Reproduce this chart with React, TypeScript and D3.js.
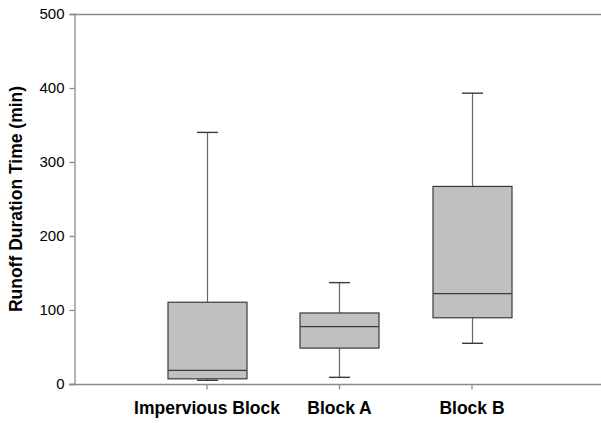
import React, {useEffect, useRef} from 'react';
import * as d3 from "d3";

const groups = ["Impervious Block", "Block A", "Block B"]
const whiskerLow = [5, 9, 55]
const quartile1 = [7, 48.5, 89.5]
const medians = [18.5, 77.5, 122]
const quartile3 = [110.5, 96, 267]
const whiskerHigh = [340, 137, 393]
const yTicks = [0, 100, 200, 300, 400, 500]

const App = () => {

  const chart = useRef<SVGSVGElement>(null)

  useEffect(() => {
    const width = 601
    const height = 423
    const top = 14
    const bottom = 384
    const left = 74

    const svg = d3.select(chart.current)
    svg.selectAll("*").remove()
    svg.attr("width", width).attr("height", height)

    const xScale = d3.scalePoint<string>()
      .domain(groups)
      .range([left, 604])
      .padding(1)

    const yScale = d3.scaleLinear()
      .domain([0, 500])
      .range([bottom, top])

    const axisColor = "#8a8a8a"

    // top frame line (runs off the right edge)
    svg.append("line")
      .attr("x1", left).attr("x2", width)
      .attr("y1", top + 0.5).attr("y2", top + 0.5)
      .attr("stroke", axisColor).attr("stroke-width", 1.3)

    // y axis
    const yAxis = svg.append("g")
      .attr("transform", `translate(${left + 0.5},0)`)
      .call(d3.axisLeft(yScale).tickValues(yTicks).tickSize(5).tickPadding(5))
    yAxis.select(".domain").attr("stroke", axisColor).attr("stroke-width", 1.3)
    yAxis.selectAll(".tick line").attr("stroke", axisColor).attr("stroke-width", 1.3)
    yAxis.selectAll("text")
      .attr("font-family", "Liberation Sans, Arial, sans-serif")
      .attr("font-size", 15)
      .attr("fill", "#000")

    // x axis
    const xAxis = svg.append("g")
      .attr("transform", `translate(0,${bottom + 0.5})`)
      .call(d3.axisBottom(xScale).tickSize(5).tickSizeOuter(0).tickPadding(12))
    xAxis.select(".domain").attr("d", `M${left - 5},0H${width}`)
      .attr("stroke", axisColor).attr("stroke-width", 1.3)
    xAxis.selectAll(".tick line").attr("stroke", axisColor).attr("stroke-width", 1.3)
    xAxis.selectAll("text")
      .attr("font-family", "Liberation Sans, Arial, sans-serif")
      .attr("font-size", 17.5)
      .attr("font-weight", "bold")
      .attr("fill", "#000")

    // boxes
    const boxW = 79
    const capW = 21
    groups.forEach((g, i) => {
      const cx = Math.round(xScale(g) as number) + 0.5
      const box = svg.append("g")

      box.append("line")
        .attr("x1", cx).attr("x2", cx)
        .attr("y1", yScale(whiskerHigh[i])).attr("y2", yScale(quartile3[i]))
        .attr("stroke", "#666").attr("stroke-width", 1.2)
      box.append("line")
        .attr("x1", cx).attr("x2", cx)
        .attr("y1", yScale(quartile1[i])).attr("y2", yScale(whiskerLow[i]))
        .attr("stroke", "#666").attr("stroke-width", 1.2)

      box.append("rect")
        .attr("x", cx - boxW / 2)
        .attr("y", yScale(quartile3[i]))
        .attr("width", boxW)
        .attr("height", yScale(quartile1[i]) - yScale(quartile3[i]))
        .attr("fill", "#c0c0c0")
        .attr("stroke", "#3a3a3a")
        .attr("stroke-width", 1.2)

      box.append("line")
        .attr("x1", cx - boxW / 2).attr("x2", cx + boxW / 2)
        .attr("y1", yScale(medians[i])).attr("y2", yScale(medians[i]))
        .attr("stroke", "#3a3a3a").attr("stroke-width", 1.2)

      ;[whiskerHigh[i], whiskerLow[i]].forEach(v => {
        box.append("line")
          .attr("x1", cx - capW / 2).attr("x2", cx + capW / 2)
          .attr("y1", yScale(v)).attr("y2", yScale(v))
          .attr("stroke", "#3a3a3a").attr("stroke-width", 1.4)
      })
    })

    // y title
    svg.append("text")
      .attr("transform", `translate(22,${(top + bottom) / 2}) rotate(-90)`)
      .attr("text-anchor", "middle")
      .attr("font-family", "Liberation Sans, Arial, sans-serif")
      .attr("font-size", 17.5)
      .attr("font-weight", "bold")
      .text("Runoff Duration Time (min)")

  }, []);

  return (
    <svg ref={chart} style={{position: "absolute", left: 0, top: 0, background: "#fff"}}/>
  );
};

export default App;
